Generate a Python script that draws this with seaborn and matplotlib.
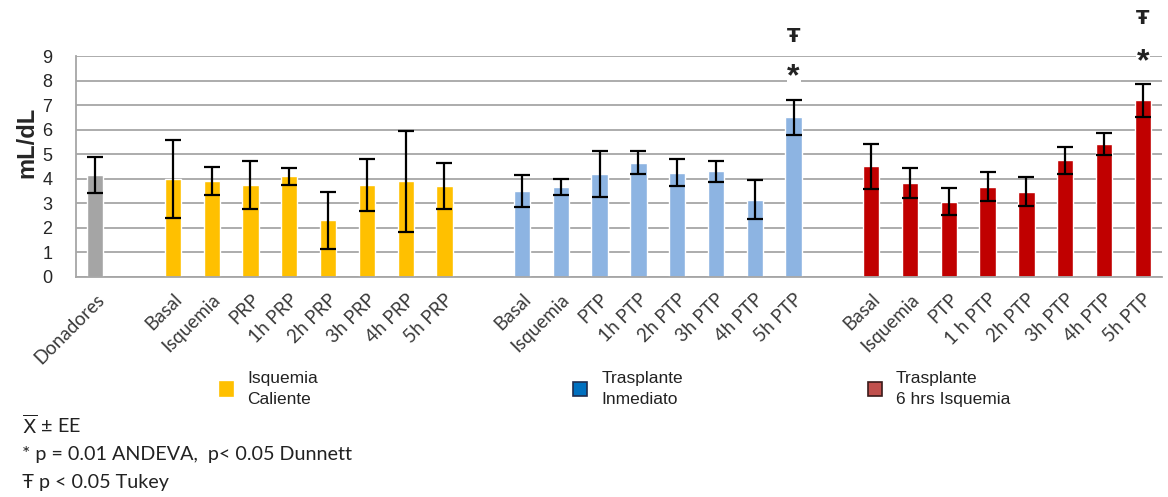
import numpy as np
import pandas as pd
import seaborn as sns
import matplotlib.pyplot as plt
from matplotlib.patches import Patch

# slots along x: Donadores, gap, 8 yellow, gap, 8 blue, gap, 8 red
labels = ['Donadores', '',
          'Basal', 'Isquemia', 'PRP', '1h PRP', '2h PRP', '3h PRP', '4h PRP', '5h PRP', '',
          'Basal', 'Isquemia', 'PTP', '1h PTP', '2h PTP', '3h PTP', '4h PTP', '5h PTP', '',
          'Basal', 'Isquemia', 'PTP', '1 h PTP', '2h PTP', '3h PTP', '4h PTP', '5h PTP']
groups = ['Donadores', None,
          'Isquemia Caliente', 'Isquemia Caliente', 'Isquemia Caliente', 'Isquemia Caliente',
          'Isquemia Caliente', 'Isquemia Caliente', 'Isquemia Caliente', 'Isquemia Caliente', None,
          'Trasplante Inmediato', 'Trasplante Inmediato', 'Trasplante Inmediato', 'Trasplante Inmediato',
          'Trasplante Inmediato', 'Trasplante Inmediato', 'Trasplante Inmediato', 'Trasplante Inmediato', None,
          'Trasplante 6 hrs', 'Trasplante 6 hrs', 'Trasplante 6 hrs', 'Trasplante 6 hrs',
          'Trasplante 6 hrs', 'Trasplante 6 hrs', 'Trasplante 6 hrs', 'Trasplante 6 hrs']
means = [4.15, np.nan,
         4.0, 3.9, 3.75, 4.1, 2.3, 3.75, 3.9, 3.7, np.nan,
         3.5, 3.65, 4.2, 4.66, 4.25, 4.3, 3.15, 6.5, np.nan,
         4.5, 3.82, 3.07, 3.68, 3.48, 4.75, 5.42, 7.2]
errs = [0.75, np.nan,
        1.6, 0.58, 0.97, 0.35, 1.18, 1.05, 2.06, 0.93, np.nan,
        0.67, 0.33, 0.93, 0.47, 0.56, 0.43, 0.8, 0.72, np.nan,
        0.93, 0.6, 0.54, 0.58, 0.58, 0.55, 0.46, 0.68]
# significance marks: slot index -> height
dunnett = {18: 8.35, 27: 8.97}
tukey = {18: 9.8, 27: 10.55}

palette = {'Donadores': '#A5A5A5', 'Isquemia Caliente': '#FFC000',
           'Trasplante Inmediato': '#8DB4E2', 'Trasplante 6 hrs': '#C00000'}

keys = ['s%02d' % i for i in range(len(labels))]
df = pd.DataFrame({'slot': keys, 'group': groups, 'mean': means, 'err': errs})
bars = df.dropna(subset=['mean'])

sns.set_style('white')
plt.rcParams['font.family'] = ['Liberation Sans', 'DejaVu Sans']

fig = plt.figure(figsize=(11.68, 4.97), dpi=100)
ax = fig.add_axes([0.065, 0.443, 0.93, 0.444])

sns.barplot(data=bars, x='slot', y='mean', hue='group', order=keys, palette=palette,
            dodge=False, width=0.42, legend=False, errorbar=None, saturation=1, ax=ax, zorder=2)
xpos = [keys.index(k) for k in bars['slot']]
ax.errorbar(xpos, bars['mean'], yerr=bars['err'], fmt='none', ecolor='black',
            elinewidth=1.6, capsize=6, capthick=1.6, zorder=3)

ax.set_ylim(0, 9)
ax.set_xlim(-0.5, len(keys) - 0.5)
ax.set_yticks(range(10))
ax.yaxis.grid(True, color='#A6A6A6', lw=1.3, zorder=0)
ax.set_axisbelow(True)
for s in ['top', 'right']:
    ax.spines[s].set_visible(False)
for s in ['left', 'bottom']:
    ax.spines[s].set_color('#A6A6A6')
    ax.spines[s].set_linewidth(1.3)

ax.set_xticks(range(len(keys)))
ax.set_xticklabels(labels, rotation=45, ha='right', rotation_mode='anchor', fontsize=13.5,
                   family=['Lato', 'DejaVu Sans'], color='#3A3A3A')
ax.set_xticks(np.arange(-0.5, len(keys), 1), minor=True)
ax.tick_params(axis='x', which='major', length=0, pad=10)
ax.tick_params(axis='x', which='minor', length=7, width=1.3, color='#A6A6A6')
ax.tick_params(axis='y', length=9, width=1.3, color='#A6A6A6', labelsize=13, pad=8)
ax.set_xlabel('')
ax.set_ylabel('mL/dL', fontsize=17, fontweight='bold')
ax.yaxis.set_label_coords(-0.035, 0.61)

for i, y in dunnett.items():
    ax.text(i, y - 0.22, '*', ha='center', va='center', fontsize=23, fontweight='bold',
            color='#222222', clip_on=False,
            bbox=dict(boxstyle='square,pad=0.02', fc='white', ec='none'), zorder=4)
for i, y in tukey.items():
    ax.text(i, y, '\u0166', ha='center', va='center', fontsize=14, fontweight='bold',
            color='#222222', clip_on=False, family='DejaVu Sans')

leg_items = [('Isquemia\nCaliente', '#FFC000', '#FFC000', 0.182),
             ('Trasplante\nInmediato', '#0070C0', '#1F2D50', 0.485),
             ('Trasplante\n6 hrs Isquemia', '#C0504D', '#3A1A1A', 0.737)]
for text, fc, ec, x0 in leg_items:
    h = Patch(facecolor=fc, edgecolor=ec, linewidth=1.2)
    leg = fig.legend(handles=[h], labels=[text], loc='upper left', bbox_to_anchor=(x0, 0.268),
                     frameon=False, fontsize=12.5, handlelength=0.8, handleheight=0.8,
                     handletextpad=0.8, borderaxespad=0)
    for t in leg.get_texts():
        t.set_linespacing(1.55)
        t.set_color('#222222')

note_font = ['Lato', 'DejaVu Sans']
fig.text(0.019, 0.145, r'$\overline{\mathrm{X}}$ ± EE', fontsize=14.2, family=note_font, color='#222222',
         va='center')
fig.text(0.019, 0.085, '* p = 0.01 ANDEVA,  p< 0.05 Dunnett', fontsize=14.2, family=note_font,
         color='#222222', va='center')
fig.text(0.019, 0.030, '\u0166 p < 0.05 Tukey', fontsize=14.2, family=note_font, color='#222222',
         va='center')

fig.savefig('out.png', dpi=100)
